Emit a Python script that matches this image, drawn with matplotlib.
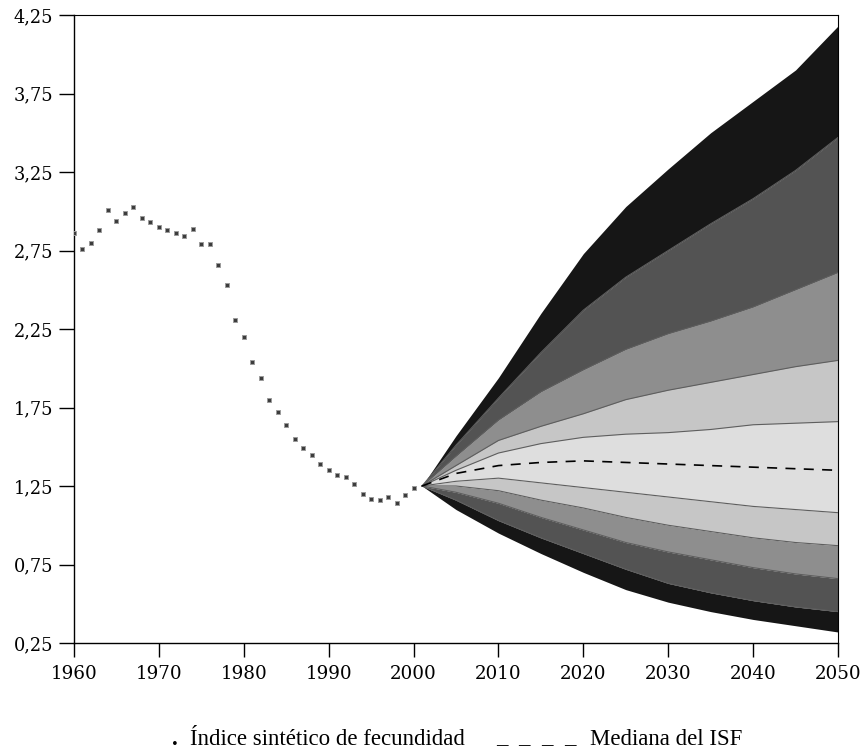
import matplotlib
matplotlib.use("Agg")
import matplotlib.pyplot as plt
import numpy as np

# Observed total fertility rate (ISF), 1960-2000
hist_years = list(range(1960, 2001))
hist_isf = [2.86, 2.76, 2.80, 2.88, 3.01, 2.94, 2.99, 3.03, 2.96, 2.93,
            2.90, 2.88, 2.86, 2.84, 2.89, 2.79, 2.79, 2.66, 2.53, 2.31,
            2.20, 2.04, 1.94, 1.80, 1.72, 1.64, 1.55, 1.49, 1.45, 1.39,
            1.35, 1.32, 1.31, 1.26, 1.20, 1.17, 1.16, 1.18, 1.14, 1.19,
            1.24]

# Projection years and probability-band limits (lowest to highest)
proj_years = [2001, 2005, 2010, 2015, 2020, 2025, 2030, 2035, 2040, 2045, 2050]
band_b0 = [1.25, 1.10, 0.95, 0.82, 0.70, 0.59, 0.51, 0.45, 0.40, 0.36, 0.32]
band_b1 = [1.25, 1.16, 1.03, 0.92, 0.82, 0.72, 0.63, 0.57, 0.52, 0.48, 0.45]
band_b2 = [1.25, 1.21, 1.14, 1.05, 0.97, 0.89, 0.83, 0.78, 0.73, 0.69, 0.66]
band_b3 = [1.25, 1.25, 1.22, 1.16, 1.11, 1.05, 1.00, 0.96, 0.92, 0.89, 0.87]
band_b4 = [1.25, 1.28, 1.30, 1.27, 1.24, 1.21, 1.18, 1.15, 1.12, 1.10, 1.08]
band_b5 = [1.25, 1.35, 1.46, 1.52, 1.56, 1.58, 1.59, 1.61, 1.64, 1.65, 1.66]
band_b6 = [1.25, 1.38, 1.54, 1.63, 1.71, 1.80, 1.86, 1.91, 1.96, 2.01, 2.05]
band_b7 = [1.25, 1.44, 1.67, 1.85, 1.99, 2.12, 2.22, 2.30, 2.39, 2.50, 2.61]
band_b8 = [1.25, 1.51, 1.81, 2.10, 2.37, 2.58, 2.75, 2.92, 3.08, 3.26, 3.47]
band_b9 = [1.25, 1.57, 1.94, 2.35, 2.73, 3.03, 3.27, 3.50, 3.70, 3.90, 4.18]
median_isf = [1.25, 1.33, 1.38, 1.40, 1.41, 1.40, 1.39, 1.38, 1.37, 1.36, 1.35]

x_ticks = [1960, 1970, 1980, 1990, 2000, 2010, 2020, 2030, 2040, 2050]
y_ticks = [0.25, 0.75, 1.25, 1.75, 2.25, 2.75, 3.25, 3.75, 4.25]
y_labels = ["0,25", "0,75", "1,25", "1,75", "2,25", "2,75", "3,25", "3,75", "4,25"]

bounds = [band_b0, band_b1, band_b2, band_b3, band_b4,
          band_b5, band_b6, band_b7, band_b8, band_b9]
band_colors = ["#161616", "#535353", "#8e8e8e", "#c6c6c6", "#dedede",
               "#c6c6c6", "#8e8e8e", "#535353", "#161616"]

fig = plt.figure(figsize=(8.68, 7.51), dpi=100)
ax = fig.add_axes([74 / 868, 1 - 643 / 751, 764 / 868, 628 / 751])

for i, col in enumerate(band_colors):
    ax.fill_between(proj_years, bounds[i], bounds[i + 1], color=col,
                    linewidth=0, zorder=2)
for b in bounds[1:-1]:
    ax.plot(proj_years, b, color="#5e5e5e", linewidth=0.8, zorder=3)

ax.plot(proj_years, median_isf, color="black", linewidth=1.2,
        dashes=(6, 5), zorder=4)

ax.plot(hist_years, hist_isf, linestyle="none", marker="s", markersize=3.4,
        markerfacecolor="#3c3c3c", markeredgecolor="#9a9a9a",
        markeredgewidth=0.7, zorder=5)

ax.set_xlim(1960, 2050)
ax.set_ylim(0.25, 4.25)
ax.set_xticks(x_ticks)
ax.set_yticks(y_ticks)
ax.set_yticklabels(y_labels)
ax.tick_params(axis="x", direction="out", length=10, width=1, pad=6,
               labelsize=13.2)
ax.tick_params(axis="y", direction="out", length=11, width=1, pad=4,
               labelsize=12.8)
for lab in ax.get_xticklabels() + ax.get_yticklabels():
    lab.set_family("DejaVu Serif")
for sp in ax.spines.values():
    sp.set_linewidth(1.0)
    sp.set_color("black")
ax.spines["top"].set_linewidth(0.8)
ax.spines["right"].set_linewidth(0.8)

legend_font = dict(family="Liberation Serif", fontsize=16.5, color="black",
                   va="baseline")
fig.text(172 / 868, 1 - 745 / 751, ".", **legend_font, fontweight="bold")
fig.text(190 / 868, 1 - 745 / 751, "Índice sintético de fecundidad", **legend_font)
fig.text(496 / 868, 1 - 742 / 751, "_  _  _  _", **legend_font)
fig.text(590 / 868, 1 - 745 / 751, "Mediana del ISF", **legend_font)

fig.savefig("out.png", dpi=100)
